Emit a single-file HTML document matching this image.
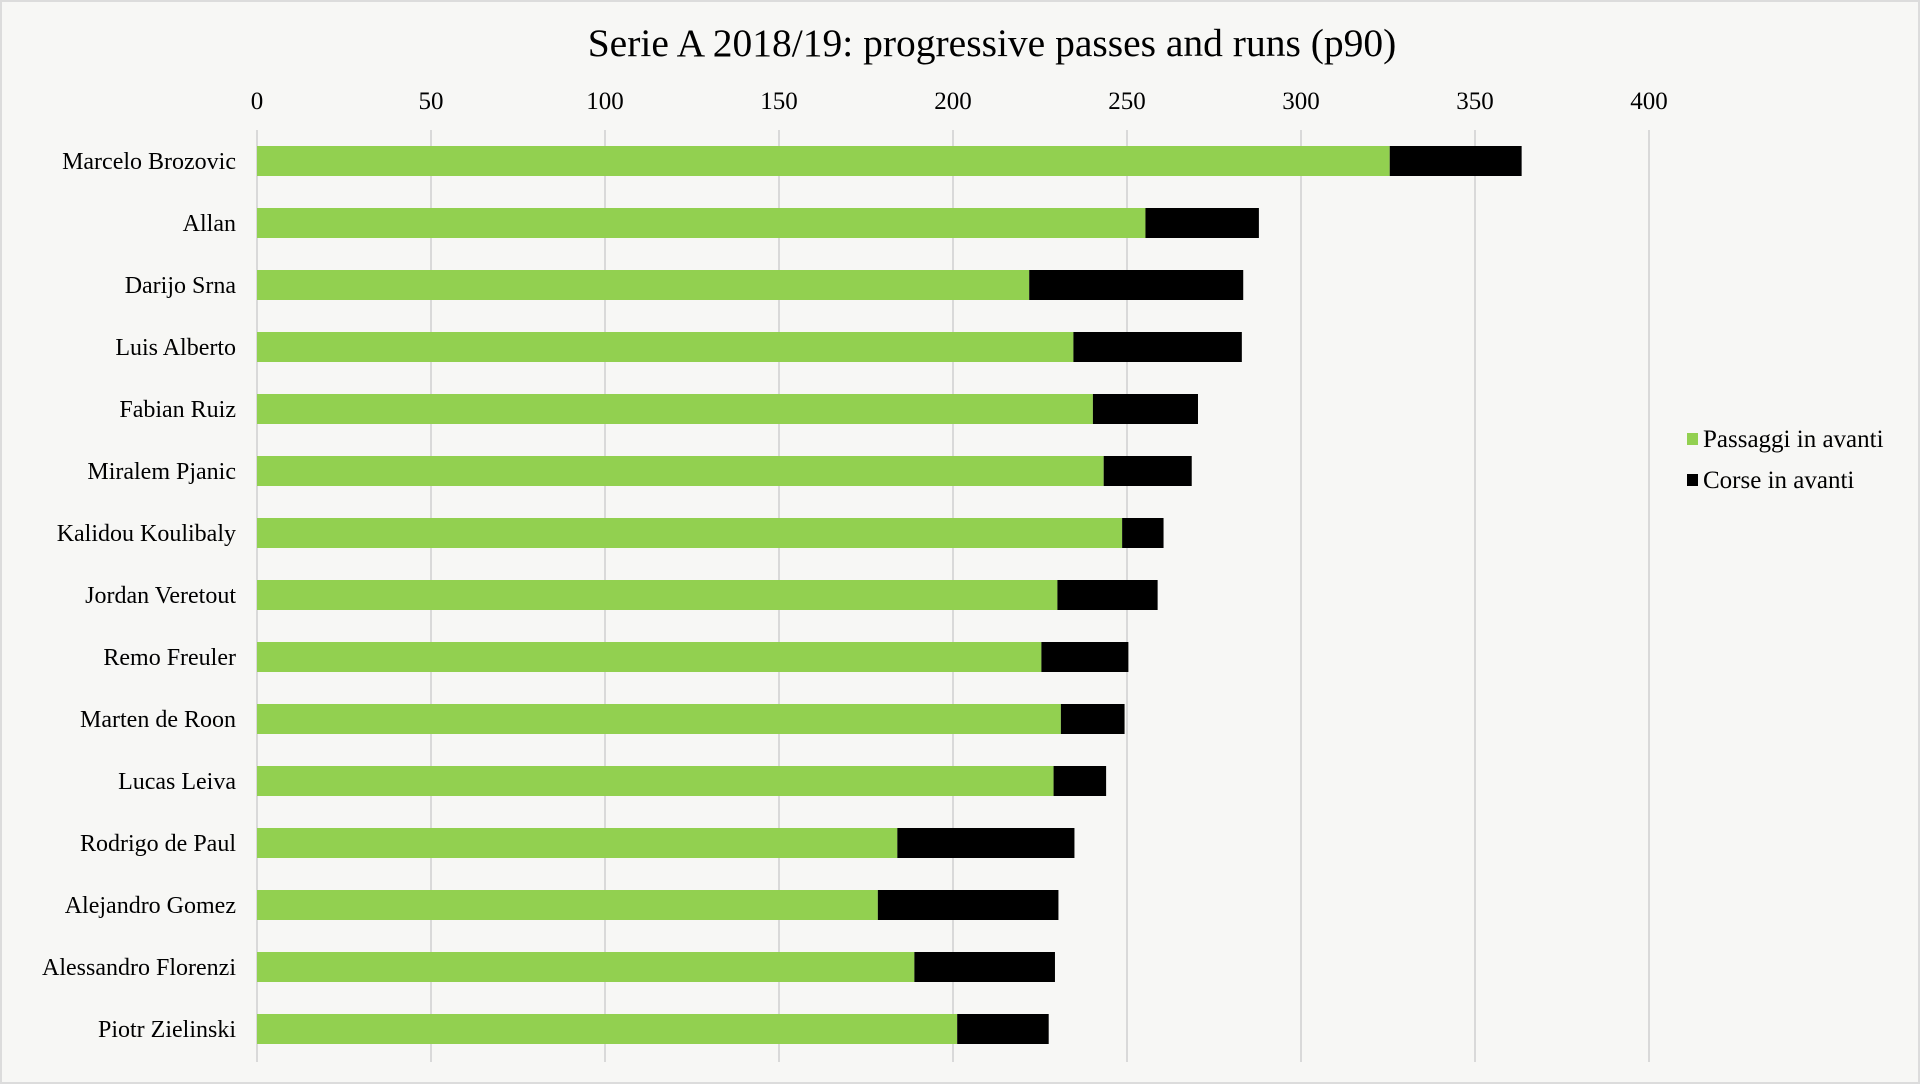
<!DOCTYPE html>
<html><head><meta charset="utf-8"><style>
html,body{margin:0;padding:0;background:#f7f7f5;}
#wrap{position:relative;width:1916px;height:1080px;border:2px solid #dcdcdc;background:#f7f7f5;overflow:hidden}
svg{position:absolute;left:-2px;top:-2px}
text{font-family:"Liberation Serif",serif;fill:#000}
</style></head><body>
<div id="wrap">
<svg id="chart" width="1920" height="1084"></svg>
</div>
<script>
const players = ["Marcelo Brozovic","Allan","Darijo Srna","Luis Alberto","Fabian Ruiz","Miralem Pjanic","Kalidou Koulibaly","Jordan Veretout","Remo Freuler","Marten de Roon","Lucas Leiva","Rodrigo de Paul","Alejandro Gomez","Alessandro Florenzi","Piotr Zielinski"];
const passes = [325.5,255.3,221.9,234.6,240.2,243.3,248.6,230,225.4,231,228.9,184,178.4,188.9,201.2];
const runs = [37.9,32.6,61.5,48.4,30.2,25.3,11.9,28.8,25,18.3,15.1,50.9,51.9,40.4,26.3];
const ticks = [0,50,100,150,200,250,300,350,400];
const seriesNames = ["Passaggi in avanti","Corse in avanti"];
const colors = ["#92d050","#000000"];

const NS="http://www.w3.org/2000/svg";
const svg=document.getElementById('chart');
const x0=257, pxPer=174/50;
const xs=v=>x0+v*pxPer;
const barTop=146, pitch=62, barH=30;
const ys=i=>barTop+i*pitch;
function mk(tag,attrs){const e=document.createElementNS(NS,tag);for(const k in attrs)e.setAttribute(k,attrs[k]);svg.appendChild(e);return e;}

const title=mk('text',{x:992,y:56,'text-anchor':'middle','font-size':39.5});
title.textContent="Serie A 2018/19: progressive passes and runs (p90)";



ticks.forEach(t=>{
  const g=mk('line',{x1:xs(t),x2:xs(t),y1:130,y2:1062,stroke:'#d9d9d9','stroke-width':2});
  
  
  const l=mk('text',{x:xs(t),y:109,'text-anchor':'middle','font-size':25});
  l.textContent=t;
  
  
});

players.forEach((p,i)=>{
  const y=ys(i);
  const lab=mk('text',{x:236,y:y+23,'text-anchor':'end','font-size':24});
  lab.textContent=p;
  
  
  const b1=mk('rect',{x:xs(0),y:y,width:xs(passes[i])-xs(0),height:barH,fill:colors[0]});
  
  
  const b2=mk('rect',{x:xs(passes[i]),y:y,width:xs(passes[i]+runs[i])-xs(passes[i]),height:barH,fill:colors[1]});
  
  
});

seriesNames.forEach((s,k)=>{
  const cy=[439,480][k];
  const sq=mk('rect',{x:1687,y:cy-6,width:11,height:12,fill:colors[k]});
  
  
  const t=mk('text',{x:1703,y:cy+8,'font-size':25});
  t.textContent=s;
  
  
});
</script>
</body></html>
